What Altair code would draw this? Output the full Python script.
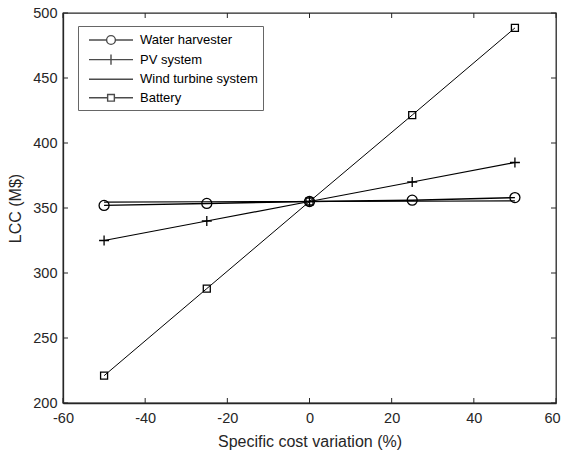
import altair as alt
import pandas as pd

variation = [-50, -25, 0, 25, 50]
water = [352.0, 353.5, 355.0, 356.0, 358.0]
pv = [325.0, 340.0, 355.0, 370.0, 385.0]
wind = [354.5, 354.8, 355.0, 355.2, 355.5]
battery = [221.0, 288.0, 355.0, 421.5, 488.5]
series_names = ["Water harvester", "PV system", "Wind turbine system", "Battery"]
x_ticks = [-60, -40, -20, 0, 20, 40, 60]
y_ticks = [200, 250, 300, 350, 400, 450, 500]

rows = []
for name, vals in zip(series_names, [water, pv, wind, battery]):
    for xv, yv in zip(variation, vals):
        rows.append({"series": name, "x": xv, "y": yv})
df = pd.DataFrame(rows)

W, H = 493, 390
FONT = "Liberation Sans"
DARK = "#262626"
MINUS_FIX = "replace(datum.label, '\u2212', '-')"

xs = alt.Scale(domain=[-60, 60], nice=False)
ys = alt.Scale(domain=[200, 500], nice=False)
x_axis = alt.Axis(values=x_ticks, title="Specific cost variation (%)", ticks=False,
                  grid=False, labelPadding=8, titlePadding=9, labelFlush=False,
                  labelExpr=MINUS_FIX,
                  labelOffset=alt.ConditionalAxisNumber(condition={"test": "datum.value == 60", "value": -4}, value=0))
y_axis = alt.Axis(values=y_ticks, title="LCC (M$)", ticks=False, grid=False,
                  labelPadding=6, titlePadding=9, labelFlush=False)

lines = alt.Chart(df).mark_line(color="black").encode(
    x=alt.X("x:Q", scale=xs, axis=x_axis),
    y=alt.Y("y:Q", scale=ys, axis=y_axis),
    detail="series:N",
    strokeWidth=alt.StrokeWidth("series:N", scale=alt.Scale(domain=series_names, range=[1.4, 1.0, 2.0, 1.0]), legend=None),
)

marker_names = ["Water harvester", "PV system", "Battery"]
marker_paths = [
    "circle",
    "M-1,0H1M0,-1V1",
    "M-0.7,-0.7H0.7V0.7H-0.7Z",
]
points = alt.Chart(df).transform_filter(
    alt.FieldOneOfPredicate(field="series", oneOf=marker_names)
).mark_point(filled=False, color="black", strokeWidth=1.3, opacity=1, size=100).encode(
    x=alt.X("x:Q", scale=xs, axis=x_axis),
    y=alt.Y("y:Q", scale=ys, axis=y_axis),
    shape=alt.Shape("series:N", scale=alt.Scale(domain=marker_names, range=marker_paths), legend=None),
)

legend_paths = [
    "M-2.75,0H-0.55A0.55,0.55 0 1,1 0.55,0A0.55,0.55 0 1,1 -0.55,0M0.55,0H2.75",
    "M-2.75,0H2.75M0,-0.65V0.65",
    "M-2.75,0H2.75",
    "M-2.75,0H-0.42M0.42,0H2.75M-0.42,-0.42H0.42V0.42H-0.42Z",
]
legend_layer = alt.Chart(df).transform_filter("false").mark_point(
    filled=False, color="black", strokeWidth=1.2
).encode(
    shape=alt.Shape("series:N", scale=alt.Scale(domain=series_names, range=legend_paths),
                    legend=alt.Legend(title=None, orient="none", legendX=15, legendY=13,
                                      symbolSize=256, symbolStrokeWidth=1.4, symbolStrokeColor="black",
                                      symbolFillColor="transparent", labelFont=FONT, labelFontSize=13,
                                      labelColor="black", labelOffset=20, rowPadding=2.6,
                                      padding=5, fillColor="white", strokeColor="#666666",
                                      symbolOffset=19)),
)

tick_df = pd.DataFrame({"t": x_ticks})
ytick_df = pd.DataFrame({"t": y_ticks})
xt_bottom = alt.Chart(tick_df).mark_rule(color=DARK, strokeWidth=1).encode(
    x=alt.X("t:Q", scale=xs, axis=x_axis), y=alt.value(H), y2=alt.value(H - 5))
xt_top = alt.Chart(tick_df).mark_rule(color=DARK, strokeWidth=1).encode(
    x=alt.X("t:Q", scale=xs, axis=x_axis), y=alt.value(0), y2=alt.value(5))
yt_left = alt.Chart(ytick_df).mark_rule(color=DARK, strokeWidth=1).encode(
    y=alt.Y("t:Q", scale=ys, axis=y_axis), x=alt.value(0), x2=alt.value(5))
yt_right = alt.Chart(ytick_df).mark_rule(color=DARK, strokeWidth=1).encode(
    y=alt.Y("t:Q", scale=ys, axis=y_axis), x=alt.value(W), x2=alt.value(W - 5))

chart = alt.layer(lines, points, xt_bottom, xt_top, yt_left, yt_right, legend_layer).resolve_scale(
    shape="independent"
).properties(
    width=W, height=H, autosize="none",
    padding={"left": 63, "top": 13, "right": 7, "bottom": 47},
    background="white",
).configure_view(
    stroke=DARK, strokeWidth=1.3
).configure_axis(
    domainColor=DARK, domainWidth=1.3, labelColor=DARK, titleColor=DARK,
    labelFont=FONT, titleFont=FONT, labelFontSize=14.5, titleFontSize=16,
    titleFontWeight="normal",
)

chart.save("out.html", embed_options={"renderer": "svg", "actions": False})
